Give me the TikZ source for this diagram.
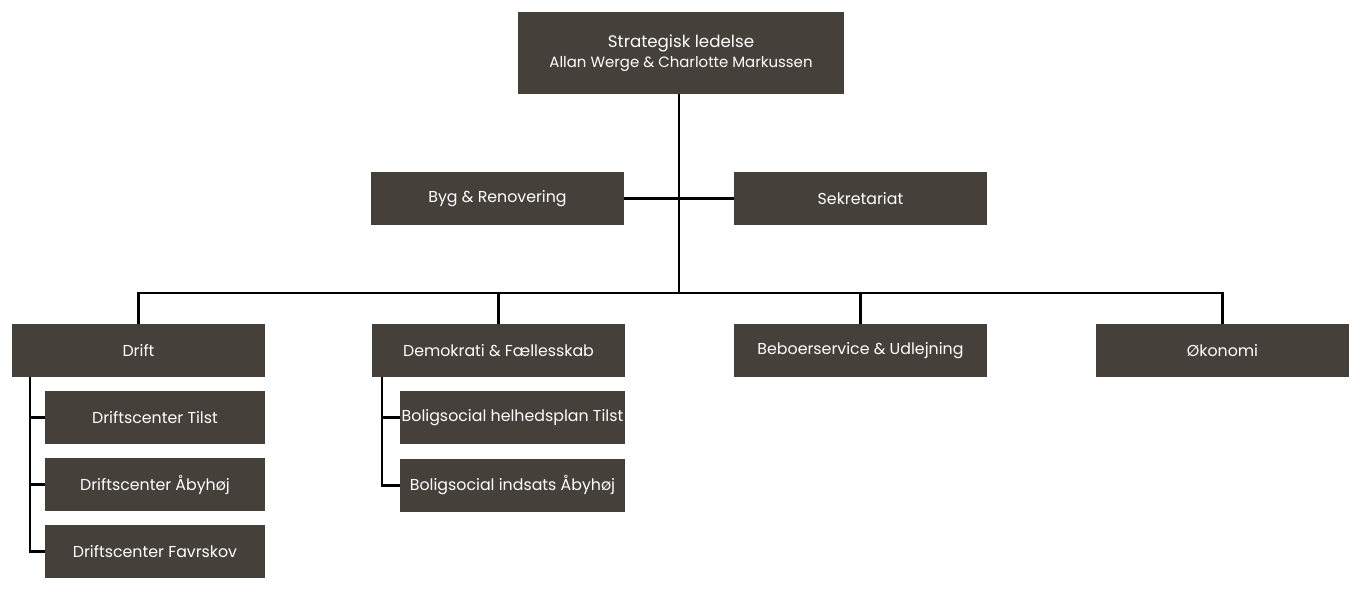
\documentclass[tikz,border=0pt]{standalone}
\usepackage{fontspec}
\setmainfont{Poppins}
\definecolor{boxbrown}{HTML}{45403A}
\begin{document}
\begin{tikzpicture}[x=0.02cm,y=-0.02cm,
  unit/.style={fill=boxbrown,text=white,minimum width=253*0.02cm,minimum height=53*0.02cm,
    inner sep=0pt,font=\fontsize{9}{11}\selectfont,align=center},
  subunit/.style={unit,minimum width=225*0.02cm},
  link/.style={line width=1.3pt,black}]
\useasboundingbox (0,0) rectangle (1364,600);
\node[unit,minimum width=326*0.02cm,minimum height=82*0.02cm] (top) at (681,53)
  {\fontsize{9.5}{12}\selectfont Strategisk ledelse\\ \fontsize{8.5}{11}\selectfont Allan Werge \& Charlotte Markussen};
\node[unit] (byg) at (497.5,198.5) {Byg \& Renovering};
\node[unit] (sek) at (860.5,198.5) {Sekretariat};
\node[unit] (drift) at (138.5,350.5) {Drift};
\node[unit] (demo) at (498.5,350.5) {Demokrati \& Fællesskab};
\node[unit] (beb) at (860.5,350.5) {Beboerservice \& Udlejning};
\node[unit] (oko) at (1222.5,350.5) {Økonomi};
\node[unit,minimum width=220*0.02cm] (dc1) at (155,417.5) {Driftscenter Tilst};
\node[unit,minimum width=220*0.02cm] (dc2) at (155,484.5) {Driftscenter Åbyhøj};
\node[unit,minimum width=220*0.02cm] (dc3) at (155,551.5) {Driftscenter Favrskov};
\node[subunit] (bs1) at (512.5,417.5) {Boligsocial helhedsplan Tilst};
\node[subunit] (bs2) at (512.5,485.5) {Boligsocial indsats Åbyhøj};

\coordinate (hub) at (679,293);
\draw[link] (top.south -| hub) -- (hub);
\draw[link] (byg.east) -- (sek.west);
\draw[link] (drift.north) |- (hub) -| (oko.north);
\draw[link] (demo.north) -- (demo.north |- hub);
\draw[link] (beb.north) -- (beb.north |- hub);
\coordinate (dl) at (30,377);
\draw[link] (dl) |- (dc3.west);
\draw[link] (dl |- dc1.west) -- (dc1.west);
\draw[link] (dl |- dc2.west) -- (dc2.west);
\coordinate (bl) at (382,377);
\draw[link] (bl) |- (bs2.west);
\draw[link] (bl |- bs1.west) -- (bs1.west);
\end{tikzpicture}
\end{document}
